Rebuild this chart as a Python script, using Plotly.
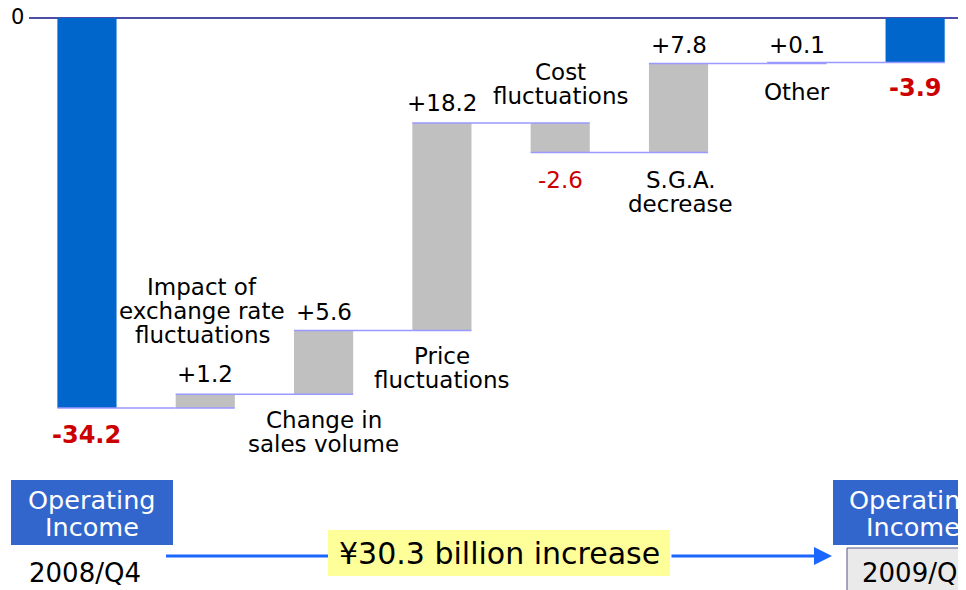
import plotly.graph_objects as go

# ---------------- data ----------------
categories = ["2008/Q4", "Exchange rate", "Sales volume", "Price", "Cost", "S.G.A.", "Other", "2009/Q4"]
values = [-34.2, 1.2, 5.6, 18.2, -2.6, 7.8, 0.1, -3.9]
measures = ["absolute", "relative", "relative", "relative", "relative", "relative", "relative", "absolute"]
item_labels = {
    1: ["Impact of", "exchange rate", "fluctuations"],
    2: ["Change in", "sales volume"],
    3: ["Price", "fluctuations"],
    4: ["Cost", "fluctuations"],
    5: ["S.G.A.", "decrease"],
    6: ["Other"],
}
y_tick_values = [0]
y_tick_labels = ["0"]
period_labels = ["2008/Q4", "2009/Q4"]
box_title = ["Operating", "Income"]
increase_text = "¥30.3 billion increase"

FONT = "DejaVu Sans"
OFF = 8  # page body margin compensation
W, H = 966 - OFF, 590 - OFF
ML, MR, MT = 29 - OFF, 0, 10 - OFF
PLOT_BOTTOM = 470 - OFF
MB = H - PLOT_BOTTOM
PW, PH = W - ML - MR, H - MT - MB

# cumulative levels
cum = []
lvl = 0.0
for v, m in zip(values, measures):
    lvl = v if m == "absolute" else lvl + v
    cum.append(round(lvl, 2))

fig = go.Figure(go.Waterfall(
    x=categories, y=values, measure=measures,
    base=0,
    totals=dict(marker=dict(color="#0066cc")),
    increasing=dict(marker=dict(color="#c0c0c0")),
    decreasing=dict(marker=dict(color="#c0c0c0")),
    connector=dict(mode="spanning", line=dict(color="#9999ff", width=1.5)),
    textinfo="none", hoverinfo="skip",
))

ann = []
LS = 24
LBL = 23

def lab(i, anchor, shift, lines, color="black", bold=False, size=LBL, xshift=0):
    n = len(lines)
    for k, t in enumerate(lines):
        txt = f"<b>{t}</b>" if bold else t
        ann.append(dict(x=categories[i], y=anchor, xref="x", yref="y", text=txt,
                        showarrow=False, yanchor="middle", xanchor="center",
                        yshift=shift + (n - 1) / 2 * LS - k * LS, xshift=xshift,
                        font=dict(family=FONT, size=size, color=color)))

def vtxt(v):
    return f"{v:+.1f}"

# value labels
lab(0, cum[0], -27, [vtxt(values[0])], color="#cc0000", bold=True, size=24)
lab(1, cum[1], 20, [vtxt(values[1])])
lab(2, cum[2], 18, [vtxt(values[2])])
lab(3, cum[3], 20, [vtxt(values[3])])
lab(4, cum[4], -27, [vtxt(values[4])], color="#cc0000")
lab(5, cum[5], 19, [vtxt(values[5])])
lab(6, cum[6], 17, [vtxt(values[6])])
lab(7, cum[7], -26, [vtxt(values[7])], color="#cc0000", bold=True, size=24)

# item labels
lab(1, cum[1], 83, item_labels[1], xshift=-3)
lab(2, cum[1], -37.5, item_labels[2])
lab(3, cum[2], -38, item_labels[3])
lab(4, cum[3], 39, item_labels[4])
lab(5, cum[4], -39.5, item_labels[5], xshift=2)
lab(6, cum[5], -28.5, item_labels[6])

# ---- bottom decorations in (reference) pixel coords -> paper ----
def px(x):
    return (x - OFF - ML) / PW

def py(y):
    return (PLOT_BOTTOM - (y - OFF)) / PH

# y tick label drawn as text next to the axis
for tv, tt in zip(y_tick_values, y_tick_labels):
    ann.append(dict(x=px(26), y=tv, xref="paper", yref="y", text=tt,
                    showarrow=False, xanchor="right", yanchor="middle", yshift=1,
                    font=dict(family=FONT, size=21, color="black")))

shapes = []
for x0 in (11, 833):
    shapes.append(dict(type="rect", xref="paper", yref="paper",
                       x0=px(x0), x1=px(x0 + 162), y0=py(545), y1=py(480),
                       fillcolor="#3366cc", line=dict(width=0)))
shapes.append(dict(type="rect", xref="paper", yref="paper",
                   x0=px(847), x1=px(992), y0=py(594), y1=py(548),
                   fillcolor="#eaeaea", line=dict(color="#55558f", width=1)))
shapes.append(dict(type="line", xref="paper", yref="paper",
                   x0=px(166), x1=px(330), y0=py(556), y1=py(556),
                   line=dict(color="#1a66ff", width=3)))
shapes.append(dict(type="rect", xref="paper", yref="paper",
                   x0=px(328), x1=px(670), y0=py(576), y1=py(530),
                   fillcolor="#ffff99", line=dict(width=0)))

ann.append(dict(x=px(832), y=py(556), xref="paper", yref="paper",
                ax=-(832 - 670), ay=0, axref="pixel", ayref="pixel",
                showarrow=True, arrowhead=2, arrowsize=1.2, arrowwidth=3,
                arrowcolor="#1a66ff", text=""))

for cx in (92, 913):
    for k, t in enumerate(box_title):
        ann.append(dict(x=px(cx), y=py(500 + 27 * k), xref="paper", yref="paper",
                        text=t, showarrow=False, xanchor="center", yanchor="middle",
                        font=dict(family=FONT, size=25.5, color="white")))
for cx, t in zip((85, 918), period_labels):
    ann.append(dict(x=px(cx), y=py(573), xref="paper", yref="paper",
                    text=t, showarrow=False, xanchor="center", yanchor="middle",
                    font=dict(family=FONT, size=26, color="black")))
ann.append(dict(x=px(499), y=py(553), xref="paper", yref="paper",
                text=increase_text, showarrow=False, xanchor="center", yanchor="middle",
                font=dict(family=FONT, size=30, color="black")))

fig.update_layout(
    width=W, height=H,
    margin=dict(l=ML, r=MR, t=MT, b=MB),
    paper_bgcolor="white", plot_bgcolor="white",
    showlegend=False, waterfallgap=0.5,
    xaxis=dict(visible=False, range=[-0.49, 7.43]),
    yaxis=dict(range=[-(470 - 18) / 11.404, (18 - 10) / 11.404],
               showgrid=False, zeroline=True, zerolinecolor="#4d4daa", zerolinewidth=2,
               showticklabels=False, ticks="", showline=False, automargin=False),
    annotations=ann, shapes=shapes,
)

fig.write_html("out.html")
